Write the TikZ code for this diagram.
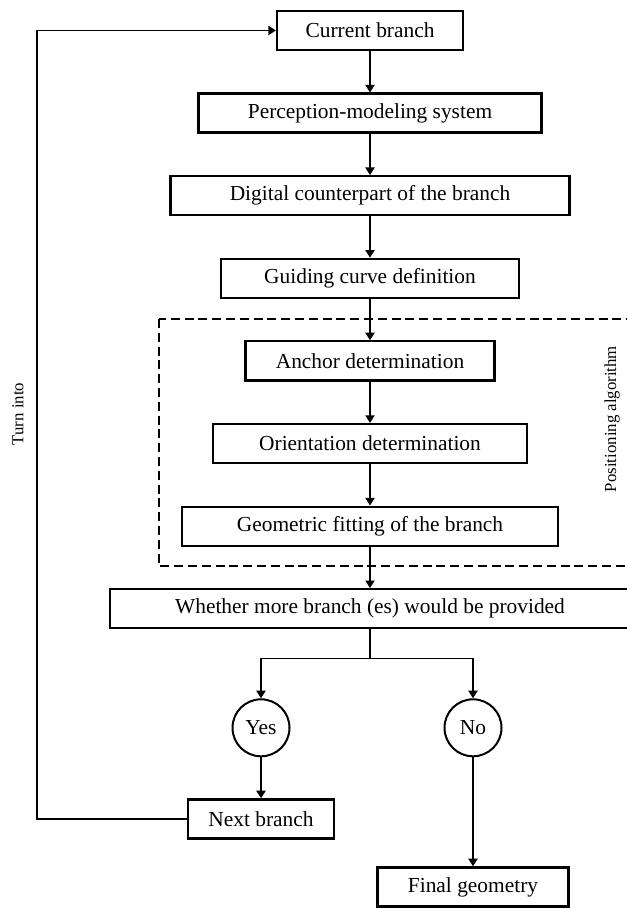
\documentclass[tikz,border=0pt]{standalone}
\usepackage{fontspec}
\setmainfont{Liberation Serif}
\usetikzlibrary{arrows.meta,positioning}
\tikzset{
  basic/.style    = {draw, rectangle, font=\fontsize{10.7}{13}\selectfont},
  box/.style      = {basic, line width=1.1pt, minimum height=19.5pt,
                     inner sep=2pt, align=center},
  decision/.style = {basic, circle, line width=1pt, minimum size=28.5pt,
                     inner sep=0pt},
  side label/.style = {font=\fontsize{8.4}{10}\selectfont, rotate=90},
  group/.style    = {draw, line width=1pt, dash pattern=on 4.5pt off 2.4pt},
  link/.style     = {draw, line width=0.7pt},
  feedback/.style = {draw, line width=0.9pt}
}

\begin{document}
\begin{tikzpicture}[x=0.5pt, y=-0.5pt, node distance=20.7pt,
    >={Triangle[width=4.6pt,length=3.8pt]}]
  \useasboundingbox (0,0) rectangle (626,908);

  % main column of steps
  \node[box, minimum width=93pt] (cur) at (370,30.5) {Current branch};
  \node[box, minimum width=171.5pt, below=of cur] (pms) {Perception-modeling system};
  \node[box, minimum width=199.5pt, below=of pms] (dig) {Digital counterpart of the branch};
  \node[box, minimum width=149pt, below=of dig] (gcd) {Guiding curve definition};

  % the positioning algorithm, inside the dashed frame
  \node[box, minimum width=124.5pt, below=of gcd] (anc) {Anchor determination};
  \node[box, minimum width=157pt, below=of anc] (ori) {Orientation determination};
  \node[box, minimum width=188pt, below=of ori] (geo) {Geometric fitting of the branch};
  \draw[group] (159,319) rectangle (640,566);
  \node[side label] (posalg) at (612,419) {Positioning algorithm};

  \node[box, minimum width=260pt, below=of geo] (wmb)
    {Whether more branch (es) would be provided};

  % the two outcomes
  \node[decision, below=34.5pt of wmb, xshift=-54.5pt] (yes) {Yes};
  \node[decision, below=34.5pt of wmb, xshift=51.5pt] (no) {No};
  \node[box, minimum width=73pt, below=20.5pt of yes] (nxt) {Next branch};
  \node[box, minimum width=95.5pt, below=54.5pt of no] (fin) {Final geometry};

  % straight arrows down the chart
  \foreach \from/\to in {cur/pms, pms/dig, dig/gcd, gcd/anc, anc/ori,
                         ori/geo, geo/wmb, yes/nxt, no/fin}
    \draw[->, link] (\from) -- (\to);

  % split into yes / no
  \draw[link] (wmb.south) -- ++(0,29) coordinate (fork);
  \draw[->, link] (fork) -| (yes);
  \draw[->, link] (fork) -| (no);

  % back to the top
  \draw[->, feedback] (nxt.west) -- ++(-150,0) |- (cur.west);
  \node[side label] (turn) at (18,414) {Turn into};
\end{tikzpicture}
\end{document}
